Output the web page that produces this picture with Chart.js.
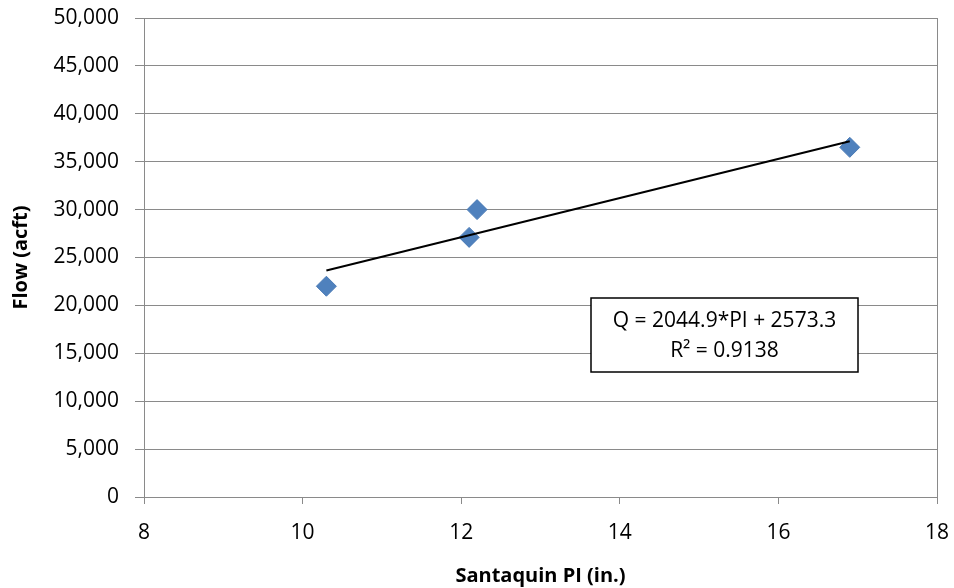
<!DOCTYPE html>
<html>
<head>
<meta charset="utf-8">
<script src="https://cdn.jsdelivr.net/npm/chart.js@4"></script>
<style>
  html, body { margin: 0; padding: 0; background: #fff; }
  #wrap { width: 954px; height: 588px; }
</style>
</head>
<body>
<div id="wrap"><canvas id="flowChart" width="954" height="588"></canvas></div>
<script>
// Santaquin PI vs flow
const piInches = [10.3, 12.1, 12.2, 16.9];
const flowAcft = [22000, 27100, 30000, 36500];

// linear trendline endpoints (Q = 2044.9*PI + 2573.3)
const trendX = [10.3, 16.9];
const trendY = [23636, 37132];

const eqLines = ['Q = 2044.9*PI + 2573.3', 'R\u00b2 = 0.9138'];

const FONT = "'Open Sans', 'Liberation Sans', sans-serif";
const GRID = '#8a8a8a';

// right edge of plot area + equation box
const extras = {
    id: 'extras',
    afterDraw(chart) {
        const c = chart.ctx;
        const a = chart.chartArea;
        c.save();
        c.strokeStyle = GRID;
        c.lineWidth = 1;
        c.beginPath();
        c.moveTo(a.right + 0.5, a.top);
        c.lineTo(a.right + 0.5, a.bottom);
        c.stroke();

        // equation label box
        const x0 = 591, y0 = 298, w = 267, h = 74;
        c.fillStyle = '#fff';
        c.fillRect(x0, y0, w, h);
        c.strokeStyle = '#000';
        c.lineWidth = 1.5;
        c.strokeRect(x0, y0, w, h);
        c.fillStyle = '#000';
        c.font = '21px ' + FONT;
        c.textAlign = 'center';
        c.textBaseline = 'middle';
        c.fillText(eqLines[0], x0 + w / 2, y0 + 23);
        c.fillText(eqLines[1], x0 + w / 2, y0 + 53);
        c.restore();
    }
};

const ctx = document.getElementById('flowChart').getContext('2d');

new Chart(ctx, {
    type: 'scatter',
    data: {
        datasets: [
            {
                label: 'Flow',
                data: piInches.map((x, i) => ({ x: x, y: flowAcft[i] })),
                pointStyle: 'rectRot',
                pointRadius: 10,
                pointHoverRadius: 10,
                backgroundColor: '#4f81bd',
                borderColor: '#4a7ab5',
                borderWidth: 1,
                order: 2
            },
            {
                label: 'Linear',
                type: 'line',
                data: trendX.map((x, i) => ({ x: x, y: trendY[i] })),
                borderColor: '#000',
                borderWidth: 2,
                pointRadius: 0,
                fill: false,
                order: 1
            }
        ]
    },
    options: {
        responsive: false,
        animation: false,
        layout: { padding: { top: 18, right: 17, left: 0, bottom: 0 } },
        plugins: {
            legend: { display: false },
            tooltip: { enabled: false }
        },
        scales: {
            x: {
                type: 'linear',
                min: 8,
                max: 18,
                ticks: {
                    stepSize: 2,
                    color: '#000',
                    font: { family: FONT, size: 21 },
                    padding: 16
                },
                grid: {
                    drawOnChartArea: false,
                    color: GRID,
                    tickLength: 7,
                    tickColor: GRID
                },
                border: { color: GRID, width: 1 },
                title: {
                    display: true,
                    text: 'Santaquin PI (in.)',
                    color: '#000',
                    font: { family: FONT, size: 20, weight: 'bold' },
                    padding: { top: 4, bottom: 0 }
                },
                afterFit(scale) {
                    scale.height = 91;
                    scale.paddingLeft = 0;
                    scale.paddingRight = 0;
                }
            },
            y: {
                min: 0,
                max: 50000,
                ticks: {
                    stepSize: 5000,
                    color: '#000',
                    font: { family: FONT, size: 21 },
                    padding: 16,
                    callback: v => v.toLocaleString('en-US')
                },
                grid: {
                    color: GRID,
                    tickLength: 9,
                    tickColor: GRID
                },
                border: { color: GRID, width: 1 },
                title: {
                    display: true,
                    text: 'Flow (acft)',
                    color: '#000',
                    font: { family: FONT, size: 20, weight: 'bold' },
                    padding: { top: 9, bottom: 0 }
                },
                afterFit(scale) {
                    scale.width = 144;
                    scale.paddingTop = 0;
                    scale.paddingBottom = 0;
                }
            }
        }
    },
    plugins: [extras]
});
</script>
</body>
</html>
